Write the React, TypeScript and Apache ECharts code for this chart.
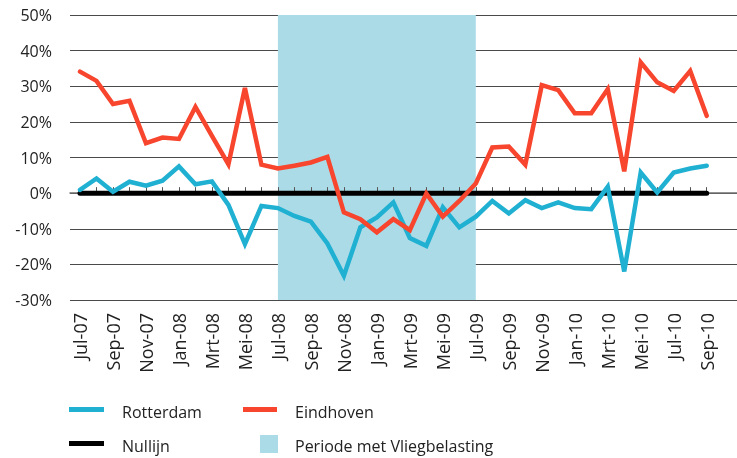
import React, { useEffect, useRef } from "react";
import * as echarts from "echarts";

const months = [
  "Jul-07", "Aug-07", "Sep-07", "Okt-07", "Nov-07", "Dec-07",
  "Jan-08", "Feb-08", "Mrt-08", "Apr-08", "Mei-08", "Jun-08",
  "Jul-08", "Aug-08", "Sep-08", "Okt-08", "Nov-08", "Dec-08",
  "Jan-09", "Feb-09", "Mrt-09", "Apr-09", "Mei-09", "Jun-09",
  "Jul-09", "Aug-09", "Sep-09", "Okt-09", "Nov-09", "Dec-09",
  "Jan-10", "Feb-10", "Mrt-10", "Apr-10", "Mei-10", "Jun-10",
  "Jul-10", "Aug-10", "Sep-10",
];

const rotterdam = [
  0.9, 4.1, 0.4, 3.2, 2.1, 3.5, 7.5, 2.5, 3.3, -3.3, -14.3, -3.6,
  -4.2, -6.4, -8.0, -14.1, -23.2, -9.6, -6.8, -2.6, -12.6, -14.8, -4.0, -9.6,
  -6.6, -2.2, -5.7, -2.0, -4.2, -2.6, -4.2, -4.5, 1.8, -22.0, 5.8, 0.2,
  5.8, 6.9, 7.7,
];

const eindhoven = [
  34.1, 31.5, 25.0, 25.9, 14.0, 15.6, 15.2, 24.2, 16.1, 8.1, 29.5, 8.0,
  6.9, 7.7, 8.6, 10.2, -5.4, -7.3, -11.0, -7.3, -10.4, -0.1, -6.6, -2.2,
  2.7, 12.8, 13.1, 8.0, 30.3, 28.9, 22.4, 22.4, 29.2, 6.1, 36.7, 31.1,
  28.7, 34.3, 21.7,
];

const nullijn = months.map(() => 0);

const periodStart = "Jul-08";
const periodEnd = "Jul-09";

const seriesNames = ["Rotterdam", "Eindhoven", "Nullijn", "Periode met Vliegbelasting"];

const BLUE = "#1fb0d2";
const RED = "#f7452e";
const SHADE = "#acdbe8";
const FONT = "'Open Sans', sans-serif";

export default function App() {
  const ref = useRef<HTMLDivElement>(null);

  useEffect(() => {
    if (!ref.current) return;
    const chart = echarts.init(ref.current, undefined, { renderer: "svg" });
    const yAxisBase = {
      type: "value",
      min: -30,
      max: 50,
      interval: 10,
    };
    chart.setOption({
      animation: false,
      grid: [
        { left: 70, right: 0, top: 15, bottom: 158 },
        { left: 80, right: 30.3, top: 15, bottom: 158 },
      ],
      xAxis: [
        {
          gridIndex: 0,
          type: "value",
          min: 0,
          max: 1,
          axisLine: { show: true, lineStyle: { color: "#6e6e6e", width: 1.5 } },
          axisTick: { show: false },
          axisLabel: { show: false },
          splitLine: { show: false },
          z: 1,
        },
        {
          gridIndex: 1,
          type: "category",
          data: months,
          boundaryGap: false,
          axisLine: { show: false },
          axisTick: {
            show: true,
            inside: true,
            length: 6,
            interval: 0,
            lineStyle: { color: "#555", width: 1 },
          },
          axisLabel: {
            interval: 1,
            rotate: 90,
            margin: 13,
            fontFamily: FONT,
            fontSize: 18,
            color: "#222",
          },
          splitLine: { show: false },
          z: 1,
        },
      ],
      yAxis: [
        {
          ...yAxisBase,
          gridIndex: 0,
          axisLine: { show: false },
          axisTick: { show: false },
          axisLabel: {
            formatter: "{value}%",
            margin: 18,
            fontFamily: FONT,
            fontSize: 16,
            color: "#222",
          },
          splitLine: { show: true, lineStyle: { color: "#4a4a4a", width: 1 } },
          z: 1,
        },
        {
          ...yAxisBase,
          gridIndex: 1,
          axisLine: { show: false },
          axisTick: { show: false },
          axisLabel: { show: false },
          splitLine: { show: false },
        },
      ],
      series: [
        {
          name: seriesNames[3],
          type: "line",
          xAxisIndex: 1,
          yAxisIndex: 1,
          data: [],
          z: 0,
          silent: true,
          markArea: {
            silent: true,
            itemStyle: { color: SHADE, opacity: 1 },
            data: [[{ xAxis: periodStart, yAxis: -30 }, { xAxis: periodEnd, yAxis: 50 }]],
          },
        },
        {
          name: seriesNames[2],
          type: "line",
          xAxisIndex: 1,
          yAxisIndex: 1,
          data: nullijn,
          showSymbol: false,
          lineStyle: { color: "#000", width: 5, cap: "round" },
          z: 2,
        },
        {
          name: seriesNames[0],
          type: "line",
          xAxisIndex: 1,
          yAxisIndex: 1,
          data: rotterdam,
          showSymbol: false,
          lineStyle: { color: BLUE, width: 4.5, cap: "round", join: "miter" },
          z: 3,
        },
        {
          name: seriesNames[1],
          type: "line",
          xAxisIndex: 1,
          yAxisIndex: 1,
          data: eindhoven,
          showSymbol: false,
          lineStyle: { color: RED, width: 4.5, cap: "round", join: "miter" },
          z: 4,
        },
      ],
      graphic: [
        { type: "rect", shape: { x: 69, y: 407, width: 35, height: 5 }, style: { fill: BLUE } },
        {
          type: "text", x: 122, y: 412,
          style: { text: seriesNames[0], font: `16px ${FONT}`, fill: "#222", verticalAlign: "middle" },
        },
        { type: "rect", shape: { x: 243, y: 407, width: 34, height: 5 }, style: { fill: RED } },
        {
          type: "text", x: 295, y: 412,
          style: { text: seriesNames[1], font: `16px ${FONT}`, fill: "#222", verticalAlign: "middle" },
        },
        { type: "rect", shape: { x: 69, y: 441, width: 35, height: 5 }, style: { fill: "#000" } },
        {
          type: "text", x: 122, y: 446,
          style: { text: seriesNames[2], font: `16px ${FONT}`, fill: "#222", verticalAlign: "middle" },
        },
        { type: "rect", shape: { x: 260, y: 435, width: 18, height: 18 }, style: { fill: SHADE } },
        {
          type: "text", x: 295, y: 446,
          style: { text: seriesNames[3], font: `16px ${FONT}`, fill: "#222", verticalAlign: "middle" },
        },
      ],
    });
    return () => chart.dispose();
  }, []);

  return (
    <div
      ref={ref}
      style={{ position: "fixed", left: 0, top: 0, width: 737, height: 458 }}
    />
  );
}
